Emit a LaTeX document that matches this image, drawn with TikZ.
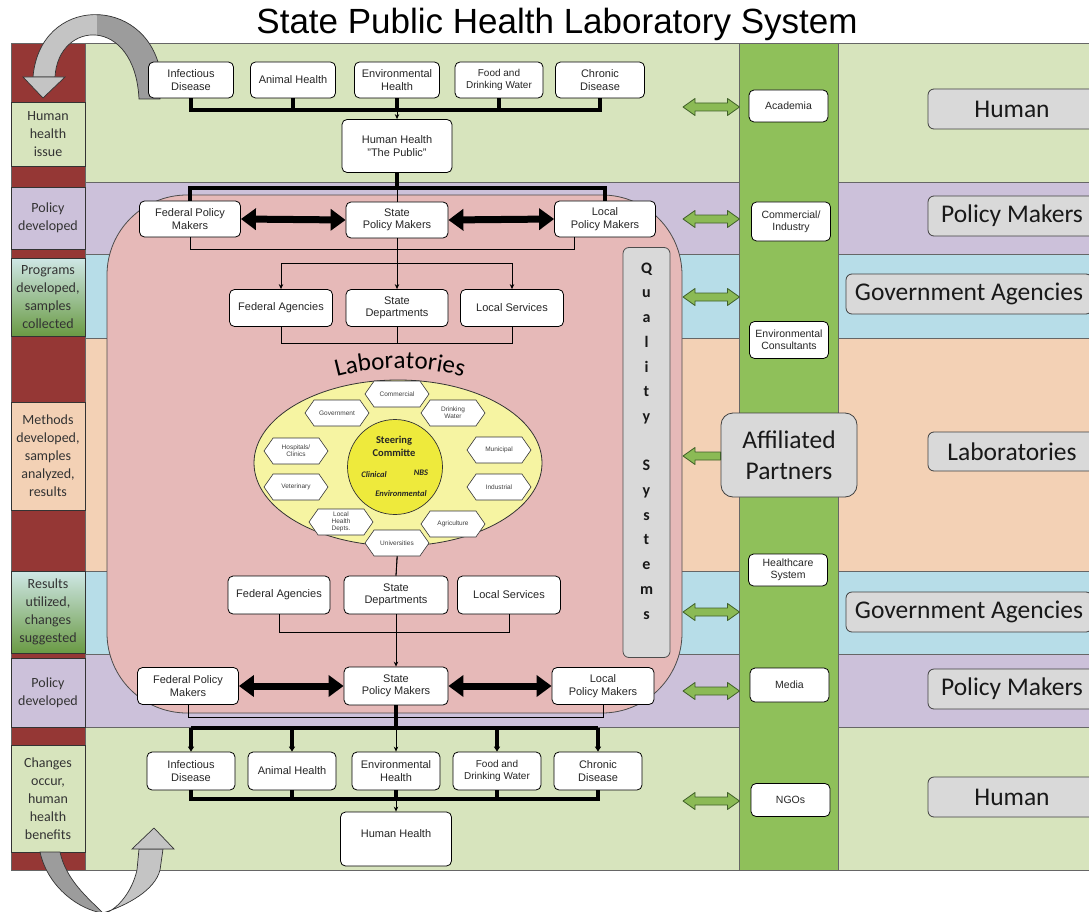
\documentclass[tikz,border=0pt]{standalone}
\usepackage{fontspec}
\setmainfont{Liberation Sans}
\newfontfamily\carl{Carlito}
\usetikzlibrary{shapes.geometric,shapes.symbols,decorations.text,arrows.meta,calc}
\definecolor{bgreen}{HTML}{D7E4BD}
\definecolor{bpurple}{HTML}{CCC1DA}
\definecolor{bblue}{HTML}{B7DDE8}
\definecolor{bpeach}{HTML}{F3D1B5}
\definecolor{dred}{HTML}{953735}
\definecolor{pinkr}{HTML}{E6B9B8}
\definecolor{cgreen}{HTML}{8FC05A}
\definecolor{lgray}{HTML}{D9D9D9}
\definecolor{yell}{HTML}{F6F4A2}
\definecolor{cyell}{HTML}{EEEA3C}
\definecolor{agreen}{HTML}{8BBA55}
\definecolor{agreenD}{HTML}{3F5F28}
\definecolor{grayL}{HTML}{C4C4C4}
\definecolor{grayD}{HTML}{9C9C9C}
\definecolor{gradT}{HTML}{CFE7E6}
\definecolor{gradB}{HTML}{6A9A44}
\newcommand\labfont{\carl\fontsize{25}{30}\selectfont}
\newcommand\greendbl[3]{%
  \draw[garrow] (#1,#3) -- (#1+12,#3-8.5) -- (#1+12,#3-4) -- (#2-12,#3-4) -- (#2-12,#3-8.5) -- (#2,#3) -- (#2-12,#3+8.5) -- (#2-12,#3+4) -- (#1+12,#3+4) -- (#1+12,#3+8.5) -- cycle;}
\begin{document}
\begin{tikzpicture}[x=1pt,y=-1pt,
  box/.style={draw=black,line width=0.8pt,fill=white,rounded corners=5pt,align=center,font=\fontsize{11}{12.5}\selectfont,inner sep=1pt,text=black!85},
  hexa/.style={shape=signal,signal to=east and west,signal pointer angle=110,draw=black!80,line width=0.6pt,fill=white,minimum width=64pt,minimum height=26pt,inner sep=0pt,align=center,font=\fontsize{6.5}{7}\selectfont,text=black!75},
  llab/.style={draw=black!80,line width=0.5pt,minimum width=74pt,align=center,font=\carl\fontsize{14}{18}\selectfont,text=black!80},
  rlab/.style={draw=black!75,line width=0.8pt,fill=lgray,rounded corners=6pt,font=\carl\fontsize{25.5}{28}\selectfont,minimum height=40pt,text=black!90},
  rbox/.style={box,font=\fontsize{10.5}{12}\selectfont,minimum width=79pt},
  thk/.style={line width=3.5pt},
  thn/.style={line width=0.8pt},
  myarr/.style={-{Stealth[length=5pt,width=4.5pt]}},
  tarr/.style={-{Triangle[length=5pt,width=6pt]}},
  bigdbl/.style={line width=7pt,{Triangle[length=15pt,width=21pt]}-{Triangle[length=15pt,width=21pt]}},
  band/.style={draw=black!60,line width=0.5pt},
  garrow/.style={fill=agreen,draw=agreenD,line width=0.8pt,line join=round}
]
\useasboundingbox (0,0) rectangle (1089,912);
\clip (0,0) rectangle (1089,912);
\fill[white] (0,0) rectangle (1089,912);

% bands
\draw[band,fill=bgreen] (85,43) rectangle (1100,182);
\draw[band,fill=bpurple] (85,182) rectangle (1100,254);
\draw[band,fill=bblue] (85,254) rectangle (1100,338);
\draw[band,fill=bpeach] (85,338) rectangle (1100,571);
\draw[band,fill=bblue] (85,571) rectangle (1100,654);
\draw[band,fill=bpurple] (85,654) rectangle (1100,727);
\draw[band,fill=bgreen] (85,727) rectangle (1100,870);

% left column
\draw[band,fill=dred] (11,43) rectangle (85,870);
\node[llab,fill=bgreen,minimum height=64pt] (l1) at (48,134) {Human\\health\\issue};
\node[llab,fill=bpurple,minimum height=62pt] (l2) at (48,218) {Policy\\developed};
\node[llab,top color=gradT,bottom color=gradB,minimum height=78pt] (l3) at (48,297) {Programs\\developed,\\samples\\collected};
\node[llab,fill=bpeach,minimum height=108pt] (l4) at (48,456) {Methods\\developed,\\samples\\analyzed,\\results};
\node[llab,top color=gradT,bottom color=gradB,minimum height=82pt] (l5) at (48,612) {Results\\utilized,\\changes\\suggested};
\node[llab,fill=bpurple,minimum height=69pt] (l6) at (48,692.5) {Policy\\developed};
\node[llab,fill=bgreen,minimum height=107pt] (l7) at (48,798.5) {Changes\\occur,\\human\\health\\benefits};

% green column
\draw[band,fill=cgreen] (739,43) rectangle (838,870);

% top curved arrow
\def\toparrow{(33,77) .. controls (40,-5) and (145,-5) .. (160,70) -- (160,99) -- (139,99) .. controls (135,15) and (58,20) .. (55,77) -- cycle}
\fill[grayL] \toparrow;
\begin{scope}
\clip (97,0) rectangle (170,110);
\fill[grayD] \toparrow;
\end{scope}
\draw[black!80,line width=0.7pt] \toparrow;
\draw[black!80,line width=0.7pt,fill=grayL] (23,77) -- (43,98) -- (65,77) -- cycle;

% bottom curved arrow
\draw[black!80,line width=0.7pt,fill=grayD] (40,852) .. controls (48,888) and (80,910) .. (103,913) .. controls (88,898) and (66,880) .. (60,852) -- cycle;
\draw[black!80,line width=0.7pt,fill=grayL] (139,849) -- (137,870) .. controls (132,892) and (118,908) .. (106,913) -- (103,913) .. controls (128,905) and (155,890) .. (160,870) -- (163,849) -- cycle;
\draw[black!80,line width=0.7pt,fill=grayL] (132,849) -- (154,828) -- (174,849) -- cycle;

% title
\node[font=\fontsize{35}{38}\selectfont,anchor=base] (title) at (557,34) {State Public Health Laboratory System};

% pink region
\node[draw=black!70,line width=0.8pt,fill=pinkr,rounded corners=80pt,minimum width=575pt,minimum height=518pt] (pinkreg) at (394.5,454) {};

% quality systems
\node[draw=black!70,line width=0.8pt,fill=lgray,rounded corners=6pt,minimum width=47pt,minimum height=410pt] (qbox) at (646.5,452.5) {};
\node[font=\carl\bfseries\fontsize{16}{24.7}\selectfont,align=center,text=black!90] (qtext) at (646.5,441) {Q\\u\\a\\l\\i\\t\\y\\[24.7pt]S\\y\\s\\t\\e\\m\\s};

% laboratories
\node[ellipse,draw=black!80,line width=0.8pt,fill=yell,minimum width=288pt,minimum height=166pt] (labs) at (398,463) {};
\path[decorate,decoration={text along path,text align=center,text={|\labfont|Laboratories}}] (320,382) .. controls (372,364) and (428,364) .. (480,382);

% top section boxes
\node[box,minimum width=85pt,minimum height=36pt] (inf1) at (191,80) {Infectious\\Disease};
\node[box,minimum width=85pt,minimum height=36pt] (ani1) at (293,80) {Animal Health};
\node[box,minimum width=85pt,minimum height=36pt] (env1) at (397,80) {Environmental\\Health};
\node[box,minimum width=88pt,minimum height=36pt,font=\fontsize{10}{11.5}\selectfont] (food1) at (499,80) {Food and\\Drinking Water};
\node[box,minimum width=89pt,minimum height=36pt] (chr1) at (600,80) {Chronic\\Disease};
\node[box,minimum width=110pt,minimum height=53pt] (hh1) at (397,146) {Human Health\\"The Public"};

\node[box,minimum width=101pt,minimum height=36pt] (fed1) at (190,219) {Federal Policy\\Makers};
\node[box,minimum width=102pt,minimum height=36pt] (st1) at (397,220) {State\\Policy Makers};
\node[box,minimum width=101pt,minimum height=36pt] (loc1) at (605,219) {Local\\Policy Makers};

\node[box,minimum width=103pt,minimum height=37pt] (fa1) at (281,308) {Federal Agencies};
\node[box,minimum width=102pt,minimum height=37pt] (sd1) at (397,308) {State\\Departments};
\node[box,minimum width=103pt,minimum height=37pt] (la1) at (512,308) {Local Services};

% lower section boxes
\node[box,minimum width=102pt,minimum height=38pt] (fa2) at (279,595) {Federal Agencies};
\node[box,minimum width=104pt,minimum height=38pt] (sd2) at (396,595) {State\\Departments};
\node[box,minimum width=103pt,minimum height=38pt] (la2) at (509,595) {Local Services};

\node[box,minimum width=101pt,minimum height=37pt] (fed2) at (188,686) {Federal Policy\\Makers};
\node[box,minimum width=104pt,minimum height=38pt] (st2) at (396,686) {State\\Policy Makers};
\node[box,minimum width=102pt,minimum height=37pt] (loc2) at (603,686) {Local\\Policy Makers};

\node[box,minimum width=88pt,minimum height=38pt] (inf2) at (191,771) {Infectious\\Disease};
\node[box,minimum width=88pt,minimum height=38pt] (ani2) at (292,771) {Animal Health};
\node[box,minimum width=88pt,minimum height=38pt] (env2) at (396,771) {Environmental\\Health};
\node[box,minimum width=88pt,minimum height=38pt,font=\fontsize{10}{11.5}\selectfont] (food2) at (497,771) {Food and\\Drinking Water};
\node[box,minimum width=88pt,minimum height=38pt] (chr2) at (598,771) {Chronic\\Disease};
\node[box,minimum width=111pt,minimum height=54pt] (hh2) at (396,839) {Human Health\\[-2pt]};

% connector ellipse to state departments (behind hexagon)
\draw[thn] (labs.south) -- (sd2.north);

% hexagons
\node[hexa] (comm) at (397,394) {Commercial};
\node[hexa] (gov) at (337,413) {Government};
\node[hexa] (drink) at (453,413) {Drinking\\Water};
\node[hexa] (hosp) at (296,451) {Hospitals/\\Clinics};
\node[hexa] (muni) at (499,450) {Municipal};
\node[hexa] (vet) at (296,487) {Veterinary};
\node[hexa] (ind) at (499,487) {Industrial};
\node[hexa] (lhd) at (341,522) {Local\\Health\\Depts.};
\node[hexa] (agri) at (453,524) {Agriculture};
\node[hexa] (univ) at (397,543) {Universities};

% steering committee
\node[circle,draw=black!80,line width=0.7pt,fill=cyell,minimum size=95pt] (steer) at (395,467) {};
\node[font=\carl\bfseries\fontsize{10.5}{13}\selectfont,align=center,text=black!85] (stc) at (394,446) {Steering\\Committe};
\node[font=\carl\bfseries\itshape\fontsize{8.5}{10}\selectfont,text=black!85] (clin) at (374,475) {Clinical};
\node[font=\carl\bfseries\itshape\fontsize{8.5}{10}\selectfont,text=black!85] (nbs) at (421,473) {NBS};
\node[font=\carl\bfseries\itshape\fontsize{8.5}{10}\selectfont,text=black!85] (envi) at (401,494) {Environmental};

% coordinates
\coordinate (bus1) at (0,110);
\coordinate (bus2) at (0,188);
\coordinate (up1) at (0,249);
\coordinate (dist1) at (0,263);
\coordinate (join1) at (0,343);
\coordinate (join2) at (0,632);
\coordinate (low1) at (0,717);
\coordinate (bus3) at (0,728);
\coordinate (bus4) at (0,799);
\coordinate (loc1c) at ($(loc1.south)+(-31,0)$);

% top connectors
\draw[thk] (inf1.south) -- (inf1.south |- bus1) -- (chr1.south |- bus1) -- (chr1.south);
\draw[thk] (ani1.south) -- (ani1.south |- bus1);
\draw[thk] (food1.south) -- (food1.south |- bus1);
\draw[thk] (env1.south) -- (env1.south |- bus1);
\draw[thn,myarr] (env1.south |- bus1) -- (hh1.north);
\draw[thk] (hh1.south) -- (hh1.south |- bus2);
\draw[thk] (fed1.north) -- (fed1.north |- bus2) -- (loc1.north |- bus2) -- (loc1.north);
\draw[thn] (hh1.south |- bus2) -- (st1.north);
\draw[bigdbl] (fed1.east) -- (st1.west);
\draw[bigdbl] (st1.east) -- (loc1.west);
\draw[thn] (fed1.south) -- (fed1.south |- up1) -- (loc1c |- up1) -- (loc1c);
\draw[thn] (st1.south) -- (st1.south |- dist1);
\draw[thn] (fa1.north |- dist1) -- (la1.north |- dist1);
\draw[thn,myarr] (fa1.north |- dist1) -- (fa1.north);
\draw[thn,myarr] (st1.south |- dist1) -- (sd1.north);
\draw[thn,myarr] (la1.north |- dist1) -- (la1.north);
\draw[thn] (fa1.south) -- (fa1.south |- join1) -- (la1.south |- join1) -- (la1.south);
\draw[thn] (sd1.south) -- (sd1.south |- join1);

% lower connectors
\draw[thn] (univ.south) -- (sd2.north);
\draw[thn] (fa2.south) -- (fa2.south |- join2) -- (la2.south |- join2) -- (la2.south);
\draw[thn] (sd2.south) -- (sd2.south |- join2);
\draw[thn,myarr] (sd2.south |- join2) -- (st2.north);
\draw[bigdbl] (fed2.east) -- (st2.west);
\draw[bigdbl] (st2.east) -- (loc2.west);
\draw[thn] (fed2.south) -- (fed2.south |- low1) -- (loc2.south |- low1) -- (loc2.south);
\draw[thk] (st2.south) -- (st2.south |- bus3);
\draw[thk] (inf2.north |- bus3) -- (chr2.north |- bus3);
\draw[thk,tarr] (inf2.north |- bus3) -- (inf2.north);
\draw[thk,tarr] (ani2.north |- bus3) -- (ani2.north);
\draw[thk,tarr] (food2.north |- bus3) -- (food2.north);
\draw[thk,tarr] (chr2.north |- bus3) -- (chr2.north);
\draw[thn,myarr] (st2.south |- bus3) -- (env2.north);
\draw[thk] (inf2.south) -- (inf2.south |- bus4) -- (chr2.south |- bus4) -- (chr2.south);
\draw[thk] (ani2.south) -- (ani2.south |- bus4);
\draw[thk] (food2.south) -- (food2.south |- bus4);
\draw[thk] (env2.south) -- (env2.south |- bus4);
\draw[thn,myarr] (env2.south |- bus4) -- (hh2.north);

% right column boxes
\node[rbox,minimum height=32pt] (acad) at (788.5,106) {Academia};
\node[rbox,minimum height=39pt] (comm2) at (791,221.5) {Commercial/\\Industry};
\node[rbox,minimum height=37pt] (envc) at (789,340) {Environmental\\Consultants};
\node[rbox,minimum height=32pt] (hcs) at (788,570) {Healthcare\\System};
\node[rbox,minimum height=34pt] (media) at (789.5,685) {Media};
\node[rbox,minimum height=33pt] (ngo) at (790.5,800) {NGOs};
\node[rlab,rounded corners=12pt,minimum width=136pt,minimum height=84pt,align=center,font=\carl\fontsize{25.5}{31}\selectfont] (aff) at (789,455) {Affiliated\\Partners};

% green arrows
\greendbl{683}{739.5}{107}
\greendbl{683}{739.5}{219}
\greendbl{683}{739.5}{297}
\greendbl{683}{739.5}{612}
\greendbl{683}{739.5}{691}
\greendbl{683}{739.5}{801}
\draw[garrow] (683,456) -- (695,447.5) -- (695,452) -- (aff.west |- 0,452) -- (aff.west |- 0,460) -- (695,460) -- (695,464.5) -- cycle;

% right labels
\node[rlab,minimum width=168pt] (rh1) at (1012,109) {Human};
\node[rlab,minimum width=168pt] (rp1) at (1012,216) {Policy Makers};
\node[rlab,minimum width=246pt] (rg1) at (969,294) {Government Agencies};
\node[rlab,minimum width=168pt,minimum height=39pt] (rl) at (1012,451.5) {Laboratories};
\node[rlab,minimum width=246pt] (rg2) at (969,612) {Government Agencies};
\node[rlab,minimum width=168pt] (rp2) at (1012,689) {Policy Makers};
\node[rlab,minimum width=168pt] (rh2) at (1012,797) {Human};
\end{tikzpicture}
\end{document}
